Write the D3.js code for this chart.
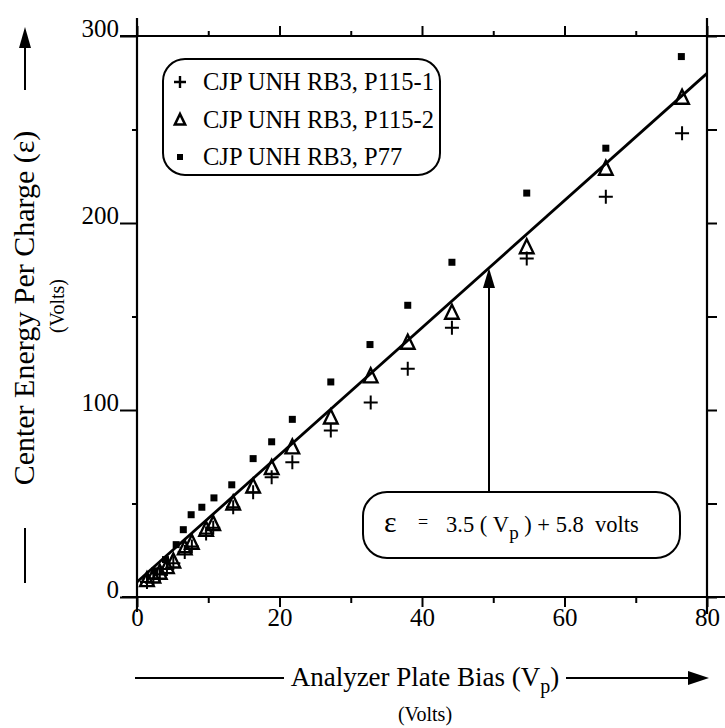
<!DOCTYPE html>
<html>
<head>
<meta charset="utf-8">
<script src="https://cdn.jsdelivr.net/npm/d3@7/dist/d3.min.js"></script>
<style>
  html, body { margin: 0; padding: 0; background: #fff; }
  svg { display: block; }
  svg text { font-family: "Liberation Serif", "Times New Roman", Times, "DejaVu Serif", serif !important; fill: #000; }
</style>
</head>
<body>
<svg id="chart" width="725" height="728"></svg>
<script>
// ---- data ----
const seriesNames = ["CJP UNH RB3, P115-1", "CJP UNH RB3, P115-2", "CJP UNH RB3, P77"];

const p1151X = [1.4, 2.3, 3.2, 4.2, 5.1, 6.7, 7.7, 9.7, 10.7, 13.5, 16.3, 18.9, 21.8, 27.2, 32.8, 38.0, 44.2, 54.7, 65.8, 76.5];
const p1151Y = [8, 10, 12, 15, 18, 24, 27, 34, 37, 48, 56, 64, 72, 89, 104, 122, 144, 181, 214, 248];

const p1152X = [1.4, 2.3, 3.2, 4.2, 5.1, 6.7, 7.7, 9.7, 10.7, 13.5, 16.3, 18.9, 21.8, 27.2, 32.8, 38.0, 44.2, 54.7, 65.8, 76.5];
const p1152Y = [9, 11, 13, 16, 19, 26, 29, 36, 39, 50, 59, 69, 80, 96, 118, 136, 152, 187, 229, 267];

const p77X = [2.5, 4.0, 5.5, 6.5, 7.6, 9.1, 10.8, 13.3, 16.3, 18.9, 21.8, 27.2, 32.7, 38.0, 44.2, 54.7, 65.8, 76.4];
const p77Y = [14, 20, 28, 36, 44, 48, 53, 60, 74, 83, 95, 115, 135, 156, 179, 216, 240, 289];

const fitX = [0, 80];
const fitY = [8, 280];

const xMajorTicks = [0, 20, 40, 60, 80];
const xMinorTicks = [10, 30, 50, 70];
const yMajorTicks = [0, 100, 200, 300];
const yMinorTicks = [50, 150, 250];

const arrowAtX = 49.4; // Vp where the annotation arrow points at the fit line

// ---- layout ----
const svg = d3.select("#chart");
const x = d3.scaleLinear().domain([0, 80]).range([137, 707]);
const y = d3.scaleLinear().domain([0, 300]).range([597, 36]);
const font = '"Liberation Serif", "Times New Roman", Times, "DejaVu Serif", serif';

// axis frame lines (extending past corners as in the reference)
const frame = svg.append("g").attr("stroke", "#000").attr("stroke-width", 2.2).attr("fill", "none");
frame.append("line").attr("x1", x(0)).attr("x2", x(0)).attr("y1", 18).attr("y2", 612);       // left
frame.append("line").attr("x1", x(80)).attr("x2", x(80)).attr("y1", 18).attr("y2", 614);     // right
frame.append("line").attr("x1", 120).attr("x2", 725).attr("y1", y(300)).attr("y2", y(300)); // top
frame.append("line").attr("x1", 122).attr("x2", 725).attr("y1", y(0)).attr("y2", y(0));     // bottom

function styleAxis(g, size) {
  g.attr("font-family", font);
  g.select(".domain").remove();
  g.selectAll(".tick line").attr("stroke", "#000").attr("stroke-width", 2);
  g.selectAll(".tick text").attr("font-family", font).attr("font-size", size).attr("fill", "#000");
}

// bottom axis
svg.append("g").attr("transform", `translate(0,${y(0)})`)
  .call(d3.axisBottom(x).tickValues(xMajorTicks).tickSize(10).tickPadding(1).tickFormat(d3.format("d")))
  .call(g => styleAxis(g, 25));
svg.append("g").attr("transform", `translate(0,${y(0)})`)
  .call(d3.axisBottom(x).tickValues(xMinorTicks).tickSize(6).tickFormat(""))
  .call(g => styleAxis(g, 25));
// top axis
svg.append("g").attr("transform", `translate(0,${y(300)})`)
  .call(d3.axisTop(x).tickValues(xMajorTicks).tickSize(10).tickFormat(""))
  .call(g => styleAxis(g, 25));
svg.append("g").attr("transform", `translate(0,${y(300)})`)
  .call(d3.axisTop(x).tickValues(xMinorTicks).tickSize(5).tickFormat(""))
  .call(g => styleAxis(g, 25));
// left axis
svg.append("g").attr("transform", `translate(${x(0)},0)`)
  .call(d3.axisLeft(y).tickValues(yMajorTicks).tickSize(17).tickPadding(1).tickFormat(d3.format("d")))
  .call(g => { styleAxis(g, 25); g.selectAll(".tick text").attr("dy", "0.0em"); });
svg.append("g").attr("transform", `translate(${x(0)},0)`)
  .call(d3.axisLeft(y).tickValues(yMinorTicks).tickSize(5).tickFormat(""))
  .call(g => styleAxis(g, 25));
// right axis
svg.append("g").attr("transform", `translate(${x(80)},0)`)
  .call(d3.axisRight(y).tickValues(yMajorTicks).tickSize(10).tickFormat(""))
  .call(g => styleAxis(g, 25));
svg.append("g").attr("transform", `translate(${x(80)},0)`)
  .call(d3.axisRight(y).tickValues(yMinorTicks).tickSize(10).tickFormat(""))
  .call(g => styleAxis(g, 25));

// fit line
const fitData = fitX.map((v, i) => [v, fitY[i]]);
svg.append("path").datum(fitData)
  .attr("d", d3.line().x(d => x(d[0])).y(d => y(d[1])))
  .attr("fill", "none").attr("stroke", "#000").attr("stroke-width", 2.8);

// marker helpers
const plusPath = s => `M${-s},0H${s}M0,${-s}V${s}`;
const triPath = s => `M0,${-s}L${s * 0.85},${s * 0.75}H${-s * 0.85}Z`;

// P115-1 pluses
svg.append("g").selectAll("path").data(p1151X.map((v, i) => [v, p1151Y[i]])).join("path")
  .attr("transform", d => `translate(${x(d[0])},${y(d[1])})`)
  .attr("d", plusPath(7)).attr("stroke", "#000").attr("stroke-width", 2).attr("fill", "none");

// P115-2 triangles
svg.append("g").selectAll("path").data(p1152X.map((v, i) => [v, p1152Y[i]])).join("path")
  .attr("transform", d => `translate(${x(d[0])},${y(d[1])})`)
  .attr("d", triPath(8)).attr("stroke", "#000").attr("stroke-width", 2.4).attr("fill", "none");

// P77 squares
svg.append("g").selectAll("rect").data(p77X.map((v, i) => [v, p77Y[i]])).join("rect")
  .attr("x", d => x(d[0]) - 3.5).attr("y", d => y(d[1]) - 3.5)
  .attr("width", 7).attr("height", 7).attr("fill", "#000");

// legend
const leg = svg.append("g");
leg.append("rect").attr("x", 163).attr("y", 59).attr("width", 277).attr("height", 116)
  .attr("rx", 22).attr("ry", 22).attr("fill", "#fff").attr("stroke", "#000").attr("stroke-width", 2);
const legRowsY = [82, 120, 157];
leg.append("path").attr("transform", `translate(180,${legRowsY[0]})`).attr("d", plusPath(6))
  .attr("stroke", "#000").attr("stroke-width", 2.4).attr("fill", "none");
leg.append("path").attr("transform", `translate(180,${legRowsY[1]})`).attr("d", triPath(6))
  .attr("stroke", "#000").attr("stroke-width", 2.6).attr("fill", "none");
leg.append("rect").attr("x", 177).attr("y", legRowsY[2] - 3).attr("width", 6).attr("height", 6).attr("fill", "#000");
leg.selectAll("text.lg").data(seriesNames).join("text").attr("class", "lg")
  .attr("x", 203).attr("y", (d, i) => legRowsY[i] + 8)
  .attr("font-family", font).attr("font-size", 24.5).text(d => d);

// equation box + arrow
svg.append("rect").attr("x", 363).attr("y", 492).attr("width", 317).attr("height", 66)
  .attr("rx", 24).attr("ry", 24).attr("fill", "#fff").attr("stroke", "#000").attr("stroke-width", 2);
const ax = x(arrowAtX);
const fitAt = fitY[0] + (fitY[1] - fitY[0]) * (arrowAtX - fitX[0]) / (fitX[1] - fitX[0]);
const tipY = y(fitAt);
svg.append("line").attr("x1", ax).attr("x2", ax).attr("y1", 492).attr("y2", tipY + 16)
  .attr("stroke", "#000").attr("stroke-width", 2);
svg.append("path").attr("d", `M${ax},${tipY}L${ax + 6},${tipY + 20}L${ax - 6},${tipY + 20}Z`).attr("fill", "#000");

const eq = svg.append("text").attr("y", 532).attr("font-family", font).attr("font-size", 22.5);
eq.append("tspan").attr("x", 384).attr("font-size", 30).text("ε");
eq.append("tspan").attr("x", 418).attr("dy", -4).attr("font-size", 18).text("=");
eq.append("tspan").attr("x", 446).attr("dy", 4).text("3.5 ( V");
eq.append("tspan").attr("dy", 7).attr("font-size", 19).text("p");
eq.append("tspan").attr("dy", -7).text(" ) + 5.8\u00A0\u00A0volts");

// x axis title
const xt = svg.append("text").attr("x", 425).attr("y", 686).attr("text-anchor", "middle")
  .attr("font-family", font).attr("font-size", 27);
xt.append("tspan").text("Analyzer Plate Bias (V");
xt.append("tspan").attr("dy", 7).attr("font-size", 20).text("p");
xt.append("tspan").attr("dy", -7).text(")");
svg.append("text").attr("x", 425).attr("y", 721).attr("text-anchor", "middle")
  .attr("font-family", font).attr("font-size", 20).text("(Volts)");
svg.append("line").attr("x1", 135).attr("x2", 284).attr("y1", 678).attr("y2", 678).attr("stroke", "#000").attr("stroke-width", 2);
svg.append("line").attr("x1", 566).attr("x2", 692).attr("y1", 678).attr("y2", 678).attr("stroke", "#000").attr("stroke-width", 2);
svg.append("path").attr("d", "M709,678L688,671L688,685Z").attr("fill", "#000");

// y axis title
svg.append("text").attr("transform", "translate(34,308) rotate(-90)").attr("text-anchor", "middle")
  .attr("font-family", font).attr("font-size", 30).text("Center Energy Per Charge (ε)");
svg.append("text").attr("transform", "translate(64,306) rotate(-90)").attr("text-anchor", "middle")
  .attr("font-family", font).attr("font-size", 20).text("(Volts)");
svg.append("line").attr("x1", 25).attr("x2", 25).attr("y1", 42).attr("y2", 90).attr("stroke", "#000").attr("stroke-width", 2);
svg.append("path").attr("d", "M25,27L31,48L19,48Z").attr("fill", "#000");
svg.append("line").attr("x1", 25).attr("x2", 25).attr("y1", 528).attr("y2", 583).attr("stroke", "#000").attr("stroke-width", 2);
</script>
</body>
</html>
